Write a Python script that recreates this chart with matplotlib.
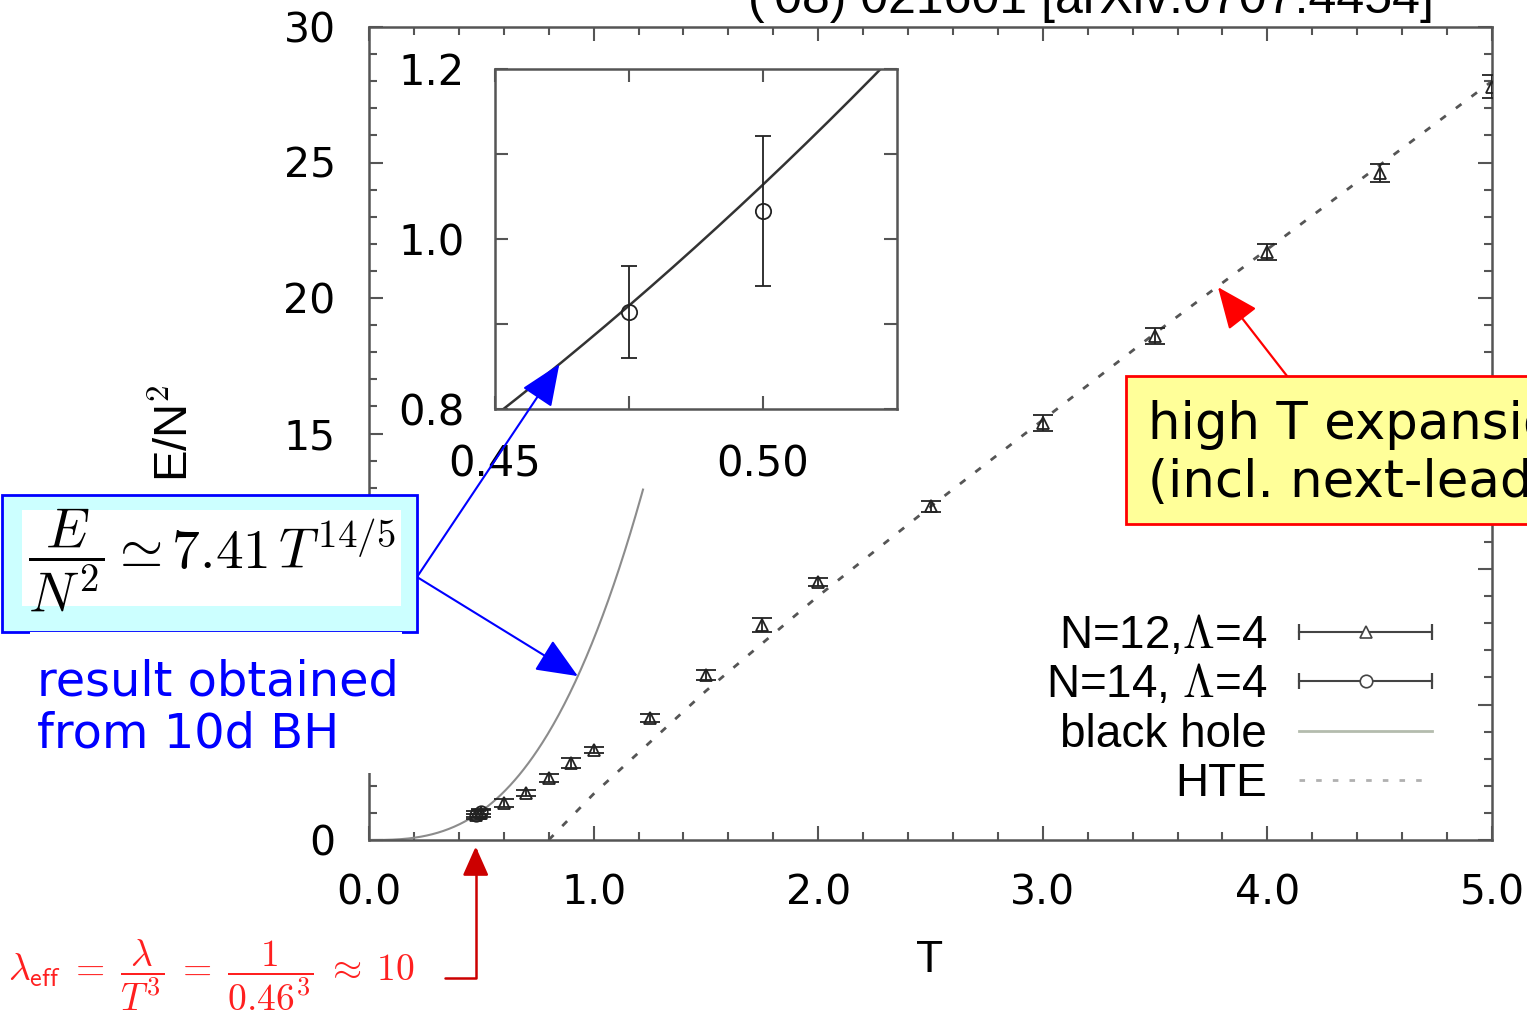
import numpy as np
import matplotlib
matplotlib.use('Agg')
import matplotlib.pyplot as plt
from matplotlib.lines import Line2D
from matplotlib.patches import Rectangle
from matplotlib.ticker import MultipleLocator, FixedLocator
from matplotlib.legend_handler import HandlerBase

plt.rcParams['mathtext.fontset'] = 'cm'
plt.rcParams['font.family'] = ['DejaVu Sans']

W, H = 1527, 1016

# lattice data, N=12, Lambda=4
t_n12 = [0.475, 0.5, 0.6, 0.7, 0.8, 0.9, 1.0, 1.25, 1.5, 1.75, 2.0, 2.5, 3.0, 3.5, 4.0, 4.5, 5.0]
e_n12 = [0.93, 1.0, 1.37, 1.73, 2.29, 2.84, 3.32, 4.50, 6.09, 7.93, 9.52, 12.32, 15.39, 18.6, 21.7, 24.6, 27.8]
err_n12 = [0.15, 0.15, 0.15, 0.12, 0.15, 0.2, 0.12, 0.15, 0.2, 0.25, 0.15, 0.2, 0.3, 0.28, 0.28, 0.33, 0.42]

# lattice data, N=14, Lambda=4
t_n14 = [0.475, 0.5]
e_n14 = [0.914, 1.033]
err_n14 = [0.054, 0.088]

# high temperature expansion
t_hte = [0.8, 1.0, 1.5, 2.0, 2.5, 3.0, 3.5, 4.0, 4.5, 5.0]
e_hte = [0.0, 1.7, 5.5, 9.0, 12.3, 15.5, 18.7, 21.8, 24.9, 28.0]

# black hole prediction E/N^2 = 7.41 T^(14/5)
bh_coef = 7.41
bh_power = 14 / 5
bh_tmax = 1.22

y_ticklabels = ['0', '', '', '15', '20', '25', '30']


def bh(t):
    return bh_coef * np.asarray(t) ** bh_power


def px(x, y):
    # pixel position -> figure fraction
    return (x / W, 1 - y / H)


class HandlerBarKey(HandlerBase):
    # gnuplot-like key: horizontal bar with end caps and the point in the middle
    def create_artists(self, legend, orig_handle, xdescent, ydescent, width, height, fontsize, trans):
        x0, x1 = -xdescent, width - xdescent
        yc = height / 2 - ydescent
        line = Line2D([x0, x1], [yc, yc], color='#444444', lw=1.5)
        caps = Line2D([x0, x1], [yc, yc], ls='none', marker='|', ms=11, mew=1.6, color='#444444')
        mk = Line2D([(x0 + x1) / 2], [yc], ls='none', marker=orig_handle.get_marker(), ms=9,
                    mfc='white', mec='#444444', mew=1.2)
        for a in (line, caps, mk):
            a.set_transform(trans)
        return [line, caps, mk]


fig = plt.figure(figsize=(W / 100, H / 100), dpi=100)
ax = fig.add_axes([369 / W, 1 - 840 / H, (1492 - 369) / W, (840 - 27) / H])

t_bh = np.linspace(0, bh_tmax, 300)
ax.plot(t_bh, bh(t_bh), color='#8c8c8c', lw=1.5, zorder=2)
ax.plot(t_hte, e_hte, color='#555555', lw=2, ls=(0, (2.5, 4.5)), zorder=2)
ax.errorbar(t_n12, e_n12, yerr=err_n12, fmt='^', ms=9, mfc='none', mec='#222222', mew=1.3,
            ecolor='#222222', elinewidth=1.3, capsize=7, capthick=1.6, zorder=3)
ax.errorbar(t_n14, e_n14, yerr=err_n14, fmt='o', ms=9, mfc='none', mec='#222222', mew=1.3,
            ecolor='#222222', elinewidth=1.3, capsize=7, capthick=1.6, zorder=3)

ax.set_xlim(0, 5)
ax.set_ylim(0, 30)
ax.set_xticks(np.arange(0, 5.01, 1.0))
ax.set_xticklabels(['%.1f' % v for v in np.arange(0, 5.01, 1.0)])
ax.set_yticks(np.arange(0, 31, 5))
ax.set_yticklabels(y_ticklabels)
ax.xaxis.set_minor_locator(MultipleLocator(0.2))
ax.yaxis.set_minor_locator(MultipleLocator(1))
ax.tick_params(which='both', direction='in', top=True, right=True, color='#555555', width=1.5)
ax.tick_params(which='major', length=10, labelsize=29.5, pad=24)
ax.tick_params(which='minor', length=5.5)
for s in ax.spines.values():
    s.set_color('#555555')
    s.set_linewidth(1.8)

# legend
h12 = Line2D([], [], marker='^')
h14 = Line2D([], [], marker='o')
hbh = Line2D([], [], color='#b4bcae', lw=2)
hhte = Line2D([], [], color='#b0b0b0', lw=2, ls=(0, (2, 4)))
leg = ax.legend([h12, h14, hbh, hhte],
                ['N=12,$\\Lambda$=4', 'N=14, $\\Lambda$=4', 'black hole', 'HTE'],
                handler_map={h12: HandlerBarKey(), h14: HandlerBarKey()},
                loc='center right', bbox_to_anchor=px(1432, 710), bbox_transform=fig.transFigure,
                frameon=False, markerfirst=False, borderpad=0, borderaxespad=0,
                handlelength=2.9, handletextpad=0.7, labelspacing=0.12,
                prop={'family': 'Liberation Sans', 'size': 33})

# inset: zoom around T ~ 0.5
ins = fig.add_axes([495 / W, 1 - 409 / H, (897 - 495) / W, (409 - 69) / H])
t_ins = np.linspace(0.45, 0.525, 200)
ins.plot(t_ins, bh(t_ins), color='#333333', lw=1.8)
ins.errorbar(t_n14, e_n14, yerr=err_n14, fmt='o', ms=11, mfc='none', mec='#222222', mew=1.3,
             ecolor='#222222', elinewidth=1.3, capsize=6, capthick=1.5)
ins.set_xlim(0.45, 0.525)
ins.set_ylim(0.8, 1.2)
ins.set_xticks([0.45, 0.50])
ins.set_xticklabels(['0.45', '0.50'])
ins.xaxis.set_minor_locator(FixedLocator([0.475]))
ins.set_yticks([0.8, 1.0, 1.2])
ins.set_yticklabels(['0.8', '1.0', '1.2'])
ins.yaxis.set_minor_locator(FixedLocator([0.9, 1.1]))
ins.tick_params(which='both', direction='in', top=True, right=True, length=9.5,
                color='#555555', width=1.5)
ins.tick_params(axis='both', labelsize=30)
ins.tick_params(axis='x', pad=25)
ins.tick_params(axis='y', pad=22)
for s in ins.spines.values():
    s.set_color('#555555')
    s.set_linewidth(1.8)

# axis labels
fig.text(*px(176, 433), 'E/N$^{\\mathsf{2}}$', rotation=90, ha='center', va='center',
         family='Liberation Sans', fontsize=34)
fig.text(*px(930, 960), 'T', ha='center', va='center', family='Liberation Sans', fontsize=32)

# reference line at the top
fig.text(*px(748, 13), "('08) 021601 [arXiv:0707.4454]", ha='left', va='baseline',
         family='Liberation Sans', fontsize=36)

# black hole formula box
fig.add_artist(Rectangle(px(2, 632), 415 / W, 137 / H, transform=fig.transFigure,
                         fc='#ccffff', ec='#0000ff', lw=2, zorder=5))
fig.add_artist(Rectangle(px(22, 606), 379 / W, 96 / H, transform=fig.transFigure,
                         fc='white', ec='none', zorder=6))
fig.text(*px(212, 560), r'$\dfrac{E}{N^2} \simeq 7.41\,T^{14/5}$', ha='center', va='center',
         fontsize=40, zorder=7)

fig.add_artist(Rectangle(px(30, 773), 372 / W, 141 / H, transform=fig.transFigure,
                         fc='white', ec='none', zorder=5))
fig.text(*px(37, 708), 'result obtained\nfrom 10d BH', ha='left', va='center',
         color='#0000ff', fontsize=34.5, linespacing=1.15, zorder=7)

blue_arrow = dict(arrowstyle='-|>,head_length=1.3,head_width=0.55', color='#0000ff', lw=1.5,
                  mutation_scale=20, shrinkA=0, shrinkB=0)
ins.annotate('', xy=(0.462, float(bh(0.462))), xytext=px(417, 577), textcoords='figure fraction',
             arrowprops=blue_arrow, annotation_clip=False)
ax.annotate('', xy=(0.93, float(bh(0.93))), xytext=px(417, 577), textcoords='figure fraction',
            arrowprops=blue_arrow, annotation_clip=False)

# high temperature expansion box
fig.add_artist(Rectangle(px(1126, 524), 420 / W, 148 / H, transform=fig.transFigure,
                         fc='#ffff99', ec='#ff0000', lw=2, zorder=5))
fig.text(*px(1148, 454), 'high T expansion\n(incl. next-leading)', ha='left', va='center',
         fontsize=37, linespacing=1.22, zorder=7)
ax.annotate('', xy=(3.78, 20.4), xytext=px(1287, 376), textcoords='figure fraction',
            arrowprops=dict(arrowstyle='-|>,head_length=1.3,head_width=0.55', color='#ff0000',
                            lw=1.6, mutation_scale=20, shrinkA=0, shrinkB=0),
            annotation_clip=False)

# effective coupling at the lowest temperature
fig.text(*px(8, 975),
         r'$\lambda_{\mathsf{eff}} \;=\; \dfrac{\lambda}{T^{\mathsf{3}}} \;=\; '
         r'\dfrac{\mathsf{1}}{\mathsf{0.46}^{\mathsf{3}}} \;\approx\; \mathsf{10}$',
         ha='left', va='center', color='#ff2020', fontsize=27)
ax.annotate('', xy=(0.475, -0.008), xycoords=ax.get_xaxis_transform(),
            xytext=px(445, 978), textcoords='figure fraction',
            arrowprops=dict(arrowstyle='-|>,head_length=0.9,head_width=0.4', color='#cc0000',
                            lw=1.8, mutation_scale=20, shrinkA=0, shrinkB=0,
                            connectionstyle='angle,angleA=0,angleB=90,rad=0'),
            annotation_clip=False)

fig.savefig('out.png', dpi=100)
